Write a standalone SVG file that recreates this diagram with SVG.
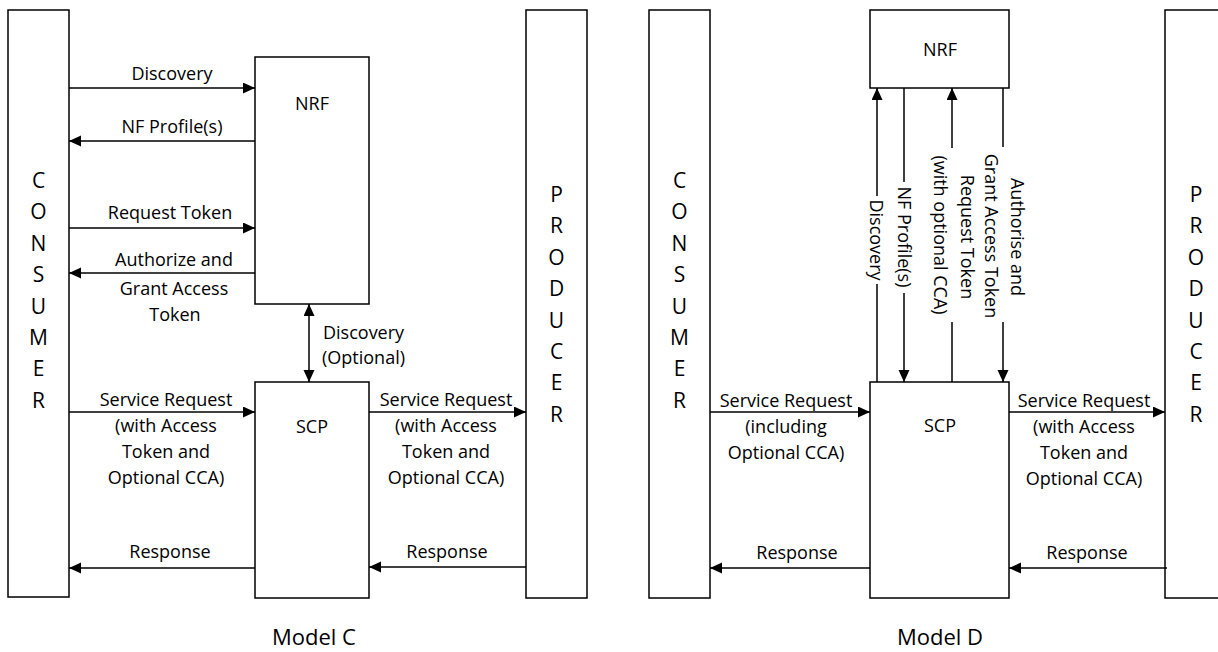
<svg xmlns="http://www.w3.org/2000/svg" width="1218" height="652" viewBox="0 0 1218 652">
<style>
.box{fill:#fff;stroke:#000;stroke-width:1.5}
.ln{fill:none;stroke:#000;stroke-width:1.5}
.t{font-family:"Open Sans","Liberation Sans",sans-serif;font-size:18px;fill:#000}
.big{font-size:21px}
.mdl{font-size:22px}
.m{text-anchor:middle}
</style>
<defs>
<marker id="ah" markerUnits="userSpaceOnUse" markerWidth="13" markerHeight="12" refX="12" refY="5.5" orient="auto-start-reverse">
<path d="M0,0 L12,5.5 L0,11 z" fill="#000"/>
</marker>
</defs>
<rect width="1218" height="652" fill="#fff"/>

<!-- Model C nodes -->
<g id="consumer-c">
<rect class="box" x="8" y="10" width="61" height="587"/>
<g class="t big m">
<text x="38.5" y="188">C</text><text x="38.5" y="219.4">O</text><text x="38.5" y="250.8">N</text><text x="38.5" y="282.2">S</text>
<text x="38.5" y="313.6">U</text><text x="38.5" y="345">M</text><text x="38.5" y="376.4">E</text><text x="38.5" y="408">R</text>
</g>
</g>
<g id="nrf-c">
<rect class="box" x="255" y="57" width="114" height="247"/>
<text class="t m" x="312" y="110">NRF</text>
</g>
<g id="scp-c">
<rect class="box" x="255" y="382" width="114" height="216"/>
<text class="t m" x="312" y="433">SCP</text>
</g>
<g id="producer-c">
<rect class="box" x="526" y="10" width="61" height="588"/>
<g class="t big m">
<text x="556.5" y="202">P</text><text x="556.5" y="233.4">R</text><text x="556.5" y="264.8">O</text><text x="556.5" y="296.2">D</text>
<text x="556.5" y="327.6">U</text><text x="556.5" y="359">C</text><text x="556.5" y="390.4">E</text><text x="556.5" y="422">R</text>
</g>
</g>

<!-- Model D nodes -->
<g id="consumer-d">
<rect class="box" x="649" y="10" width="61" height="588"/>
<g class="t big m">
<text x="679.5" y="188">C</text><text x="679.5" y="219.4">O</text><text x="679.5" y="250.8">N</text><text x="679.5" y="282.2">S</text>
<text x="679.5" y="313.6">U</text><text x="679.5" y="345">M</text><text x="679.5" y="376.4">E</text><text x="679.5" y="408">R</text>
</g>
</g>
<g id="nrf-d">
<rect class="box" x="870" y="10" width="139" height="78"/>
<text class="t m" x="940" y="56">NRF</text>
</g>
<g id="scp-d">
<rect class="box" x="870" y="382" width="139" height="216"/>
<text class="t m" x="940" y="432">SCP</text>
</g>
<g id="producer-d">
<rect class="box" x="1165" y="10" width="62" height="588"/>
<g class="t big m">
<text x="1196" y="202">P</text><text x="1196" y="233.4">R</text><text x="1196" y="264.8">O</text><text x="1196" y="296.2">D</text>
<text x="1196" y="327.6">U</text><text x="1196" y="359">C</text><text x="1196" y="390.4">E</text><text x="1196" y="422">R</text>
</g>
</g>

<!-- Connectors -->
<g id="connectors" class="ln" marker-end="url(#ah)">
<path d="M69,88 H255"/>
<path d="M255,141 H69"/>
<path d="M69,228 H255"/>
<path d="M255,273 H69"/>
<path d="M309,304 V382" marker-start="url(#ah)"/>
<path d="M69,412 H255"/>
<path d="M255,568 H69"/>
<path d="M369,412 H526"/>
<path d="M526,567 H369"/>
<path d="M877,382 V284 M877,196 V88"/>
<path d="M904,88 V182 M904,293 V382"/>
<path d="M952,382 V322 M952,148 V88"/>
<path d="M1003,88 V147 M1003,322 V382"/>
<path d="M710,412 H870"/>
<path d="M870,568 H710"/>
<path d="M1009,412 H1165"/>
<path d="M1167,568 H1009"/>
</g>

<!-- Connector labels -->
<g id="labels" class="t m">
<text x="172" y="80">Discovery</text>
<text x="172" y="133">NF Profile(s)</text>
<text x="170" y="219">Request Token</text>
<text x="174" y="266">Authorize and</text>
<text x="174" y="295">Grant Access</text>
<text x="175" y="321">Token</text>
<text x="323" y="339" text-anchor="start">Discovery</text>
<text x="322" y="364" text-anchor="start">(Optional)</text>
<text x="166" y="406">Service Request</text>
<text x="166" y="432">(with Access</text>
<text x="166" y="458">Token and</text>
<text x="166" y="484">Optional CCA)</text>
<text x="170" y="558">Response</text>
<text x="446" y="406">Service Request</text>
<text x="446" y="432">(with Access</text>
<text x="446" y="458">Token and</text>
<text x="446" y="484">Optional CCA)</text>
<text x="447" y="558">Response</text>

<text transform="translate(870,240) rotate(90)">Discovery</text>
<text transform="translate(898,237) rotate(90)">NF Profile(s)</text>
<text transform="translate(961,237) rotate(90)">Request Token</text>
<text transform="translate(934,235) rotate(90)">(with optional CCA)</text>
<text transform="translate(1011,237) rotate(90)">Authorise and</text>
<text transform="translate(985,236) rotate(90)">Grant Access Token</text>

<text x="786" y="407">Service Request</text>
<text x="786" y="433">(including</text>
<text x="786" y="459">Optional CCA)</text>
<text x="797" y="559">Response</text>
<text x="1084" y="407">Service Request</text>
<text x="1084" y="433">(with Access</text>
<text x="1084" y="459">Token and</text>
<text x="1084" y="485">Optional CCA)</text>
<text x="1087" y="559">Response</text>
</g>

<g id="titles" class="t mdl m">
<text x="314" y="645">Model C</text>
<text x="940" y="645">Model D</text>
</g>
</svg>
